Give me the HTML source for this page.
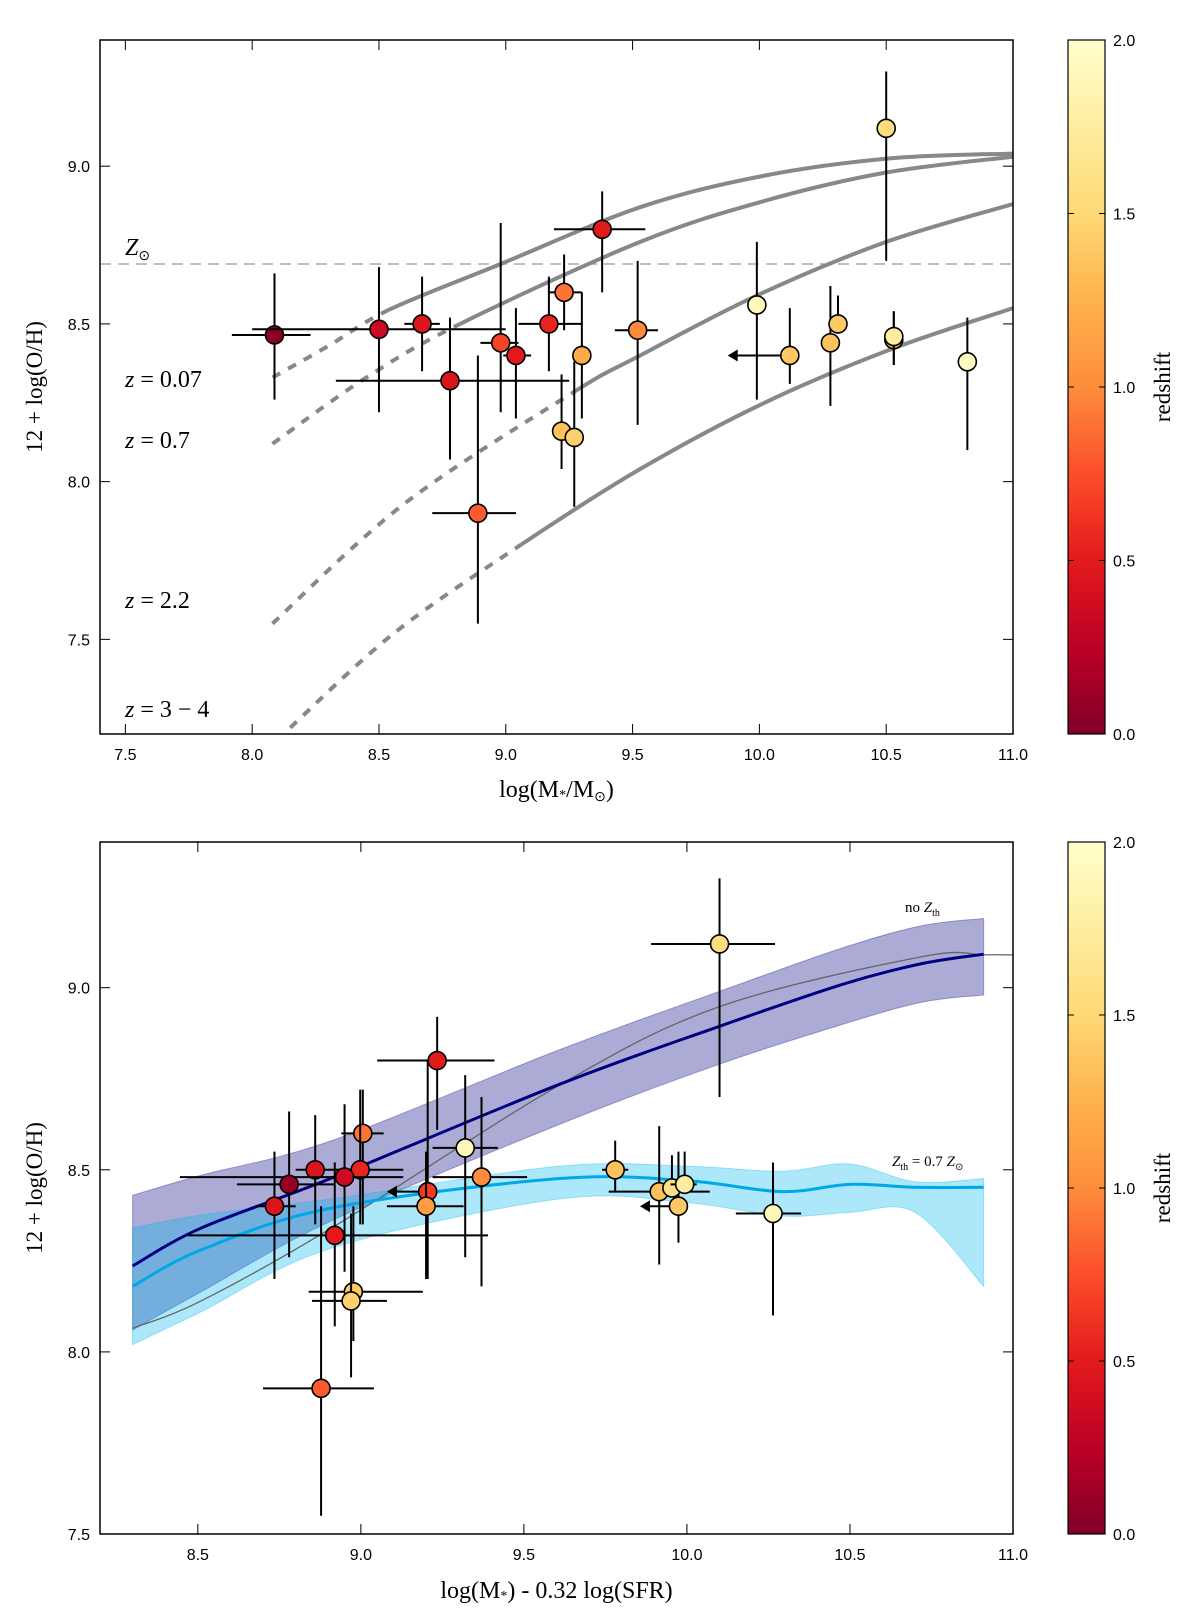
<!DOCTYPE html>
<html><head><meta charset="utf-8"><title>Mass-metallicity relation</title>
<style>
html,body{margin:0;padding:0;background:#fff;}
svg{display:block;}
.tick{font-family:"Liberation Sans",sans-serif;font-size:16px;fill:#000;}
.ser{font-family:"Liberation Serif",serif;fill:#000;}
</style></head>
<body>
<svg id="fig" width="1200" height="1621" viewBox="0 0 1200 1621" xmlns="http://www.w3.org/2000/svg">
<defs>
<linearGradient id="cmap" x1="0" y1="1" x2="0" y2="0">
<stop offset="0" stop-color="#800026"/><stop offset="0.125" stop-color="#bd0026"/><stop offset="0.25" stop-color="#e31a1c"/><stop offset="0.375" stop-color="#fc4e2a"/><stop offset="0.5" stop-color="#fd8d3c"/><stop offset="0.625" stop-color="#feb24c"/><stop offset="0.75" stop-color="#fed976"/><stop offset="0.875" stop-color="#ffeda0"/><stop offset="1" stop-color="#ffffcc"/>
</linearGradient>
<clipPath id="clipTop"><rect x="100" y="40" width="913" height="694"/></clipPath>
<clipPath id="clipBot"><rect x="100" y="842" width="913" height="692"/></clipPath>
</defs>
<g id="top"></g>
<g id="bot"></g>
</svg>
<script>
// ---------- TOP PANEL DATA ----------
const topX   = [8.088,8.50,8.67,8.78,8.98,9.04,8.89,9.38,9.17,9.23,9.30,9.22,9.27,9.52,10.50,9.99,10.12,10.28,10.31,10.53,10.53,10.82];
const topY   = [8.465,8.483,8.50,8.32,8.44,8.40,7.90,8.80,8.50,8.60,8.40,8.16,8.14,8.48,9.12,8.56,8.40,8.44,8.50,8.45,8.46,8.38];
const topXlo = [7.92,8.00,8.60,8.33,8.90,8.99,8.71,9.19,9.05,9.17,null,null,null,9.43,null,null,null,null,null,null,null,null];
const topXhi = [8.23,9.00,8.74,9.25,9.05,9.10,9.04,9.55,9.30,9.30,null,null,null,9.60,null,null,null,null,null,null,null,null];
const topYlo = [8.26,8.22,8.35,8.07,8.22,8.20,7.55,8.60,8.35,8.48,8.20,8.04,7.92,8.18,8.70,8.26,8.31,8.24,8.47,8.37,8.37,8.10];
const topYhi = [8.66,8.68,8.65,8.52,8.82,8.55,8.40,8.92,8.65,8.72,8.60,8.34,8.38,8.70,9.30,8.76,8.55,8.62,8.59,8.54,8.54,8.52];
const topZ   = [0.05,0.35,0.45,0.45,0.7,0.5,0.8,0.5,0.55,0.9,1.2,1.35,1.45,1.0,1.55,1.9,1.4,1.35,1.4,1.3,1.75,1.95];
const topArrow = [null,null,null,null,null,null,null,null,null,null,null,null,null,null,null,null,9.875,null,null,null,null,null];
// model curves (top)
const c1X = [8.08,8.30,8.54,8.98,9.53,10.02,10.52,11.0];
const c1Y = [8.33,8.43,8.545,8.69,8.87,8.97,9.025,9.04];
const c2X = [8.08,8.45,8.82,9.53,10.02,10.50,11.0];
const c2Y = [8.12,8.33,8.50,8.76,8.89,8.98,9.03];
const c3X = [8.08,8.60,9.26,9.53,9.99,10.50,11.0];
const c3Y = [7.55,7.93,8.28,8.40,8.59,8.76,8.88];
const c4X = [8.15,8.56,9.06,9.53,10.02,10.52,11.0];
const c4Y = [7.22,7.52,7.80,8.04,8.25,8.42,8.55];
const curveSplit = [2,2,2,2];
const curveLabels = ["0.07","0.7","2.2","3 \u2212 4"];
const zSun = 8.69;
const topXTicks = [7.5,8.0,8.5,9.0,9.5,10.0,10.5,11.0];
const topYTicks = [7.5,8.0,8.5,9.0];

// ---------- BOTTOM PANEL DATA ----------
const botX   = [9.234,9.006,9.32,8.86,8.998,8.95,8.78,8.735,8.92,9.205,9.37,9.20,8.977,8.97,8.878,10.10,9.78,9.915,9.974,9.954,9.993,10.264];
const botY   = [8.80,8.60,8.56,8.50,8.50,8.48,8.46,8.40,8.32,8.44,8.48,8.40,8.165,8.14,7.90,9.12,8.50,8.44,8.40,8.45,8.46,8.38];
const botXlo = [9.05,8.94,9.22,8.80,8.92,8.445,8.62,8.68,8.47,null,9.22,9.08,8.84,8.85,8.70,9.89,9.74,9.76,null,null,9.95,10.15];
const botXhi = [9.41,9.07,9.42,8.93,9.13,9.13,8.92,8.80,9.39,null,9.51,9.315,9.19,9.08,9.04,10.27,9.82,10.07,null,null,10.03,10.35];
const botYlo = [8.61,8.35,8.26,8.35,8.35,8.22,8.26,8.20,8.07,8.20,8.18,8.20,8.03,7.93,7.55,8.70,8.44,8.24,8.30,8.45,8.46,8.10];
const botYhi = [8.92,8.72,8.76,8.65,8.72,8.68,8.66,8.55,8.52,8.80,8.70,8.55,8.40,8.38,8.40,9.30,8.58,8.62,8.55,8.54,8.55,8.52];
const botZ   = [0.5,0.9,1.9,0.45,0.55,0.35,0.1,0.45,0.5,0.65,1.0,1.1,1.4,1.45,0.8,1.55,1.35,1.35,1.4,1.6,1.75,1.9];
const botArrow = [null,null,null,null,null,null,null,null,null,9.08,null,null,null,null,null,null,null,null,9.856,null,null,null];
// model bands (bottom)
const bandX       = [8.30,8.51,8.91,9.61,10.10,10.48,10.72,10.91];
const noZthUpper  = [8.43,8.485,8.58,8.83,8.99,9.11,9.17,9.19];
const noZthMid    = [8.236,8.34,8.477,8.735,8.894,9.01,9.066,9.092];
const noZthLower  = [8.06,8.165,8.36,8.625,8.79,8.90,8.96,8.98];
const zthX        = [8.30,8.51,8.91,9.61,10.0,10.29,10.50,10.70,10.91];
const zthUpper    = [8.34,8.376,8.42,8.51,8.51,8.496,8.516,8.467,8.476];
const zthMid      = [8.18,8.28,8.395,8.476,8.47,8.44,8.46,8.452,8.452];
const zthLower    = [8.02,8.11,8.285,8.42,8.41,8.373,8.383,8.383,8.18];
const grayX       = [8.30,8.51,8.91,9.61,10.10,10.72,10.91,11.0];
const grayY       = [8.065,8.14,8.34,8.733,8.948,9.085,9.09,9.09];
const botXTicks = [8.5,9.0,9.5,10.0,10.5,11.0];
const botYTicks = [7.5,8.0,8.5,9.0];
const cbTicks = [0.0,0.5,1.0,1.5,2.0];

// ---------- helpers ----------
const NS = "http://www.w3.org/2000/svg";
function mk(tag, attrs, parent){ const e=document.createElementNS(NS,tag); for(const k in attrs) e.setAttribute(k,attrs[k]); if(parent) parent.appendChild(e); return e; }
const stops = ["#800026","#bd0026","#e31a1c","#fc4e2a","#fd8d3c","#feb24c","#fed976","#ffeda0","#ffffcc"];
function hex(h){return [parseInt(h.substr(1,2),16),parseInt(h.substr(3,2),16),parseInt(h.substr(5,2),16)];}
function cmap(z){ let t=Math.max(0,Math.min(1,z/2))*8; let i=Math.min(7,Math.floor(t)); let f=t-i; const a=hex(stops[i]),b=hex(stops[i+1]); return "rgb("+a.map((v,k)=>Math.round(v+(b[k]-v)*f)).join(",")+")"; }
// spline over full point set, emitting only segments a..b
function splineSeg(pts,a,b,move){ let d=(move===false?" L":"M")+pts[a][0]+","+pts[a][1]; for(let i=a;i<b;i++){ const p0=pts[Math.max(0,i-1)],p1=pts[i],p2=pts[i+1],p3=pts[Math.min(pts.length-1,i+2)]; const c1=[p1[0]+(p2[0]-p0[0])/6,p1[1]+(p2[1]-p0[1])/6]; const c2=[p2[0]-(p3[0]-p1[0])/6,p2[1]-(p3[1]-p1[1])/6]; d+=" C"+c1[0]+","+c1[1]+" "+c2[0]+","+c2[1]+" "+p2[0]+","+p2[1]; } return d; }

function makeAxes(g, L, T, W, H, xmin, xmax, ymin, ymax){
  return { sx: v => L + (v-xmin)/(xmax-xmin)*W, sy: v => T + (ymax-v)/(ymax-ymin)*H, L, T, W, H, ymin, ymax };
}
function drawFrame(g, ax, xticks, yticks, xlabelText, xlabelY, cbTop){
  const fr = mk("rect",{x:ax.L,y:ax.T,width:ax.W,height:ax.H,fill:"none",stroke:"#000","stroke-width":1.5},g);
  
  
  xticks.forEach(v=>{
    const x=ax.sx(v);
    mk("line",{x1:x,y1:ax.T+ax.H,x2:x,y2:ax.T+ax.H-10,stroke:"#000","stroke-width":1},g);
    mk("line",{x1:x,y1:ax.T,x2:x,y2:ax.T+10,stroke:"#000","stroke-width":1},g);
    const t=mk("text",{x:x,y:ax.T+ax.H+26,"text-anchor":"middle",class:"tick"},g);
    t.textContent=v.toFixed(1);
    
    
  });
  yticks.forEach(v=>{
    const y=ax.sy(v);
    mk("line",{x1:ax.L,y1:y,x2:ax.L+10,y2:y,stroke:"#000","stroke-width":1},g);
    mk("line",{x1:ax.L+ax.W,y1:y,x2:ax.L+ax.W-10,y2:y,stroke:"#000","stroke-width":1},g);
    const t=mk("text",{x:ax.L-10,y:y+6,"text-anchor":"end",class:"tick"},g);
    t.textContent=v.toFixed(1);
    
    
  });
  const yl=mk("text",{x:0,y:0,transform:"translate(42,"+(ax.T+ax.H/2)+") rotate(-90)","text-anchor":"middle",class:"ser","font-size":"23"},g);
  yl.textContent="12 + log(O/H)";
  
  
  const xl=mk("text",{x:ax.L+ax.W/2,y:xlabelY,"text-anchor":"middle",class:"ser","font-size":"24"},g);
  xl.innerHTML=xlabelText;
  
  
  const cx=1068, cw=37, ch=ax.H;
  const cb=mk("rect",{x:cx,y:cbTop,width:cw,height:ch,fill:"url(#cmap)",stroke:"#000","stroke-width":1.2},g);
  
  
  cbTicks.forEach(v=>{
    const y=cbTop+ch-(v/2)*ch;
    mk("line",{x1:cx,y1:y,x2:cx+6,y2:y,stroke:"#000","stroke-width":1},g);
    mk("line",{x1:cx+cw,y1:y,x2:cx+cw-6,y2:y,stroke:"#000","stroke-width":1},g);
    const t=mk("text",{x:cx+cw+8,y:y+6,class:"tick"},g);
    t.textContent=v.toFixed(1);
    
    
  });
  const rl=mk("text",{x:0,y:0,transform:"translate(1170,"+(cbTop+ch/2)+") rotate(-90)","text-anchor":"middle",class:"ser","font-size":"23"},g);
  rl.textContent="redshift";
  
  
}
function drawPoints(g, ax, X, Y, Xlo, Xhi, Ylo, Yhi, Z, Arr){
  for(let i=0;i<X.length;i++){
    const pg=mk("g",{},g);
    
    
    const x=ax.sx(X[i]), y=ax.sy(Y[i]);
    mk("line",{x1:x,y1:ax.sy(Ylo[i]),x2:x,y2:ax.sy(Yhi[i]),stroke:"#000","stroke-width":2},pg);
    if(Xlo[i]!==null){
      mk("line",{x1:ax.sx(Xlo[i]),y1:y,x2:ax.sx(Xhi[i]),y2:y,stroke:"#000","stroke-width":2},pg);
    }
    if(Arr[i]!==null){
      const ax2=ax.sx(Arr[i]);
      mk("line",{x1:x,y1:y,x2:ax2+6,y2:y,stroke:"#000","stroke-width":2},pg);
      const ah=mk("polygon",{points:(ax2)+","+y+" "+(ax2+10)+","+(y-6)+" "+(ax2+10)+","+(y+6),fill:"#000"},pg);
      
      
    }
    const c=mk("circle",{cx:x,cy:y,r:9,fill:cmap(Z[i]),stroke:"#000","stroke-width":1.6},pg);
    
    
  }
}

// ---------- TOP ----------
const gT=document.getElementById('top');
const axT=makeAxes(gT,100,40,913,694,7.4,11.0,7.2,9.4);
const gTc=mk("g",{"clip-path":"url(#clipTop)"},gT);
const zl=mk("line",{x1:axT.L,y1:axT.sy(zSun),x2:axT.L+axT.W,y2:axT.sy(zSun),stroke:"#999","stroke-width":1.3,"stroke-dasharray":"11,7"},gTc);


[[c1X,c1Y],[c2X,c2Y],[c3X,c3Y],[c4X,c4Y]].forEach((c,k)=>{
  const pts=c[0].map((v,i)=>[axT.sx(v),axT.sy(c[1][i])]);
  const s=curveSplit[k];
  const dp=mk("path",{d:splineSeg(pts,0,s),fill:"none",stroke:"#888","stroke-width":4,"stroke-dasharray":"9,9"},gTc);
  
  
  const sp=mk("path",{d:splineSeg(pts,s,pts.length-1),fill:"none",stroke:"#888","stroke-width":4},gTc);
  
  
});
drawPoints(gTc,axT,topX,topY,topXlo,topXhi,topYlo,topYhi,topZ,topArrow);
const zs=mk("text",{x:125,y:255,class:"ser","font-size":"24","font-style":"italic"},gT);
zs.innerHTML='Z<tspan font-size="14" font-style="normal" dy="5">\u2299</tspan>';


const labY=[387,448,608,717];
curveLabels.forEach((s,k)=>{
  const t=mk("text",{x:125,y:labY[k],class:"ser","font-size":"24"},gT);
  t.innerHTML='<tspan font-style="italic">z</tspan> = '+s;
  
  
});
drawFrame(gT,axT,topXTicks,topYTicks,'log(M<tspan font-size="14" dy="2">*</tspan><tspan dy="-2">/M</tspan><tspan font-size="14" dy="4">\u2299</tspan><tspan dy="-4">)</tspan>',797,40);

// ---------- BOTTOM ----------
const gB=document.getElementById('bot');
const axB=makeAxes(gB,100,842,913,692,8.2,11.0,7.5,9.4);
const gBc=mk("g",{"clip-path":"url(#clipBot)"},gB);
function band(xs,up,lo,fill,op,name){
  const u=xs.map((v,i)=>[axB.sx(v),axB.sy(up[i])]);
  const l=xs.map((v,i)=>[axB.sx(v),axB.sy(lo[i])]).reverse();
  const d=splineSeg(u,0,u.length-1)+splineSeg(l,0,l.length-1,false)+" Z";
  const p=mk("path",{d:d,fill:fill,"fill-opacity":op,stroke:fill,"stroke-opacity":op,"stroke-width":1},gBc);
  
  
}
function line(xs,ys,col,w,name){
  const pts=xs.map((v,i)=>[axB.sx(v),axB.sy(ys[i])]);
  const p=mk("path",{d:splineSeg(pts,0,pts.length-1),fill:"none",stroke:col,"stroke-width":w},gBc);
  
  
}
band(bandX,noZthUpper,noZthLower,"#2c2c96",0.4,"no-zth-band");
band(zthX,zthUpper,zthLower,"#00b4f0",0.32,"zth-band");
line(grayX,grayY,"#666",1.3,"reference-curve");
line(bandX,noZthMid,"#000080",3,"no-zth-median-line");
line(zthX,zthMid,"#00a8e8",3,"zth-median-line");
drawPoints(gBc,axB,botX,botY,botXlo,botXhi,botYlo,botYhi,botZ,botArrow);
const l1=mk("text",{x:905,y:912,class:"ser","font-size":"15"},gB);
l1.innerHTML='no <tspan font-style="italic">Z</tspan><tspan font-size="10" dy="4">th</tspan>';


const l2=mk("text",{x:892,y:1166,class:"ser","font-size":"15"},gB);
l2.innerHTML='<tspan font-style="italic">Z</tspan><tspan font-size="10" dy="4">th</tspan><tspan dy="-4"> = 0.7 </tspan><tspan font-style="italic">Z</tspan><tspan font-size="10" dy="4">\u2299</tspan>';


drawFrame(gB,axB,botXTicks,botYTicks,'log(M<tspan font-size="14" dy="2">*</tspan><tspan dy="-2">) - 0.32 log(SFR)</tspan>',1598,842);
</script>
</body></html>
